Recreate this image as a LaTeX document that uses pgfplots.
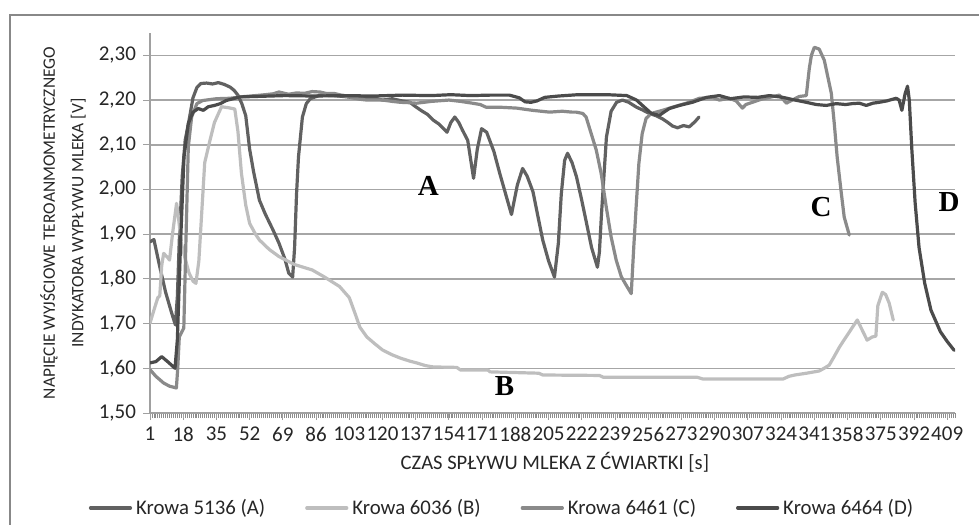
\documentclass[border=0pt]{standalone}
\usepackage{fontspec}
\setmainfont{Carlito}
\newfontfamily\tnr{Liberation Serif}
\usepackage{pgfplots}
\usepackage{pgfplotstable}
\pgfplotsset{compat=1.18}

\definecolor{cA}{HTML}{616161}
\definecolor{cB}{HTML}{BEBEBE}
\definecolor{cC}{HTML}{8A8A8A}
\definecolor{cD}{HTML}{4B4B4B}
\definecolor{gridc}{HTML}{A6A6A6}
\definecolor{axc}{HTML}{A0A0A0}
\definecolor{framec}{HTML}{888888}
\definecolor{tickc}{HTML}{262626}

\pgfplotstableread{
x y
1 1.883
3 1.888
6 1.827
9 1.770
12 1.725
14 1.697
15 1.760
16 1.887
17.5 2.030
19 2.110
21 2.155
23 2.205
25 2.228
27 2.237
30 2.238
33 2.236
36 2.239
39 2.235
42 2.229
44 2.222
46 2.211
48 2.192
50 2.165
52 2.090
54 2.040
57 1.976
60 1.945
64 1.909
67 1.880
70 1.845
72 1.813
74 1.804
75 1.870
76 1.990
77 2.073
79 2.162
81 2.192
83 2.203
88 2.211
95 2.210
100 2.208
108 2.204
115 2.206
120 2.200
125 2.203
130 2.198
134 2.195
137 2.185
140 2.176
143 2.168
146 2.155
149 2.146
153 2.128
155 2.150
157 2.162
159 2.150
161 2.132
163.6 2.110
166.6 2.025
168.5 2.090
170.7 2.136
173.3 2.128
177 2.085
180 2.036
183 1.990
186 1.944
189 2.010
191.7 2.047
194 2.030
197 1.995
200 1.930
202 1.887
205 1.840
208 1.804
210 1.880
211.5 1.990
213.2 2.065
214.7 2.081
217 2.060
219.3 2.028
222 1.975
224.4 1.925
227 1.870
230 1.826
231 1.860
232.1 1.947
234.6 2.117
237 2.175
239.8 2.195
242.8 2.200
246 2.195
250 2.184
253 2.178
256.6 2.170
260 2.165
263.3 2.158
266 2.150
268.4 2.142
271 2.138
274 2.143
277 2.140
280 2.152
282 2.162
}\dataA

\pgfplotstableread{
x y
1 1.701
3 1.730
5 1.758
6 1.762
7 1.830
8 1.857
10 1.848
11 1.842
12.5 1.900
14.6 1.969
15.5 1.940
17 1.880
19 1.845
21 1.813
23 1.795
24.5 1.790
26 1.840
27.5 1.950
29 2.060
31.7 2.110
34 2.150
37.6 2.185
41 2.183
44.4 2.180
46 2.130
47.8 2.036
50 1.965
52 1.924
55 1.900
57 1.887
62 1.866
67 1.850
75 1.832
84 1.820
90 1.805
98 1.783
103 1.758
106 1.722
108.4 1.692
112 1.670
116 1.655
120 1.641
125 1.630
129 1.623
134 1.616
137.5 1.612
142 1.606
146 1.603
158 1.602
160 1.596
174 1.596
175 1.592
200 1.589
202 1.585
231 1.584
233 1.580
281 1.580
284 1.576
325 1.576
328 1.582
331 1.585
337 1.589
343.5 1.594
346 1.600
348.6 1.607
351 1.625
353.8 1.647
356 1.662
358.9 1.681
361 1.695
363 1.708
365 1.690
368 1.663
370.6 1.670
372.5 1.672
373.5 1.740
375.8 1.770
377.5 1.765
379.3 1.746
381.4 1.708
}\dataB

\pgfplotstableread{
x y
1 1.597
4 1.582
8 1.567
11 1.560
14.5 1.556
15.2 1.600
16 1.670
17 1.679
18.3 1.690
19.4 1.887
20.6 2.095
22.3 2.162
25 2.192
28 2.199
35 2.203
42 2.204
47 2.207
55 2.210
60 2.212
64 2.214
67 2.218
72 2.213
76 2.216
80 2.215
84 2.219
88 2.218
91 2.215
95 2.215
100 2.210
103 2.207
108 2.202
112 2.200
120 2.200
125 2.197
129 2.195
134 2.194
137.5 2.193
145 2.197
154 2.200
160 2.197
166 2.193
170 2.190
173 2.184
180 2.184
188.6 2.182
196.8 2.177
205.5 2.173
212 2.175
217 2.173
219.1 2.173
222.5 2.170
224.2 2.162
226.8 2.125
229.4 2.088
231.9 2.036
234.5 1.961
237 1.894
239.6 1.842
242.2 1.805
244.7 1.786
247.3 1.767
248.6 1.872
249.8 1.961
251.2 2.058
252.9 2.125
254.9 2.159
257.5 2.170
263.3 2.177
268.4 2.184
275.5 2.193
282.2 2.204
288.8 2.206
292.4 2.200
297.5 2.204
301 2.198
304.2 2.182
306 2.190
309.3 2.195
314 2.202
318 2.206
323.1 2.211
326.7 2.193
329.7 2.200
333.3 2.208
336.9 2.210
338.4 2.270
339.5 2.300
341 2.318
343.5 2.314
346.1 2.289
348 2.250
349.7 2.215
351.2 2.148
352.7 2.072
354.8 1.992
356.3 1.938
358.9 1.898
}\dataC

\pgfplotstableread{
x y
1 1.612
4 1.615
7 1.626
10 1.615
13.8 1.600
15 1.664
16.7 1.887
18.4 2.073
20.6 2.147
23 2.173
25.7 2.181
28.3 2.177
30.8 2.185
34 2.188
37 2.192
40 2.199
47 2.207
55 2.208
70 2.210
85 2.209
100 2.210
115 2.209
130 2.211
145 2.210
155 2.212
165 2.210
175 2.211
185 2.211
190 2.205
193 2.196
196 2.195
199 2.198
203 2.206
210 2.209
220 2.212
235 2.212
245 2.210
250 2.200
253 2.188
257.6 2.170
261.7 2.166
266.8 2.181
272 2.188
278.6 2.195
285.8 2.206
292.4 2.210
298 2.203
305 2.207
312 2.206
318 2.210
325 2.206
330 2.201
336.9 2.195
342 2.190
347.1 2.188
352.2 2.192
357 2.190
360.4 2.192
364 2.193
367.6 2.188
371 2.193
374.2 2.195
378 2.198
382.9 2.204
384.4 2.200
385.8 2.177
387.5 2.215
388.7 2.231
389.6 2.200
390.9 2.090
392.6 1.970
394.6 1.870
397.5 1.790
400.7 1.730
405.5 1.682
409 1.660
412.6 1.640
}\dataD

\begin{document}
\begin{tikzpicture}
\useasboundingbox (0,0) rectangle (489.5bp,262.5bp);
\draw[framec, line width=1bp] (5bp,-3bp) -- (5bp,255bp) -- (495bp,255bp);
\begin{axis}[
  at={(75bp,56bp)}, anchor=south west,
  scale only axis, width=402.5bp, height=190bp,
  xmin=1, xmax=413, ymin=1.5, ymax=2.35,
  axis x line=bottom, axis y line=left,
  axis line style={-, draw=axc, line width=0.75bp},
  xtick={1,18,...,409},
  minor xtick={2,...,413},
  ytick={1.5,1.6,1.7,1.8,1.9,2.0,2.1,2.2,2.3},
  yticklabels={{1,50},{1,60},{1,70},{1,80},{1,90},{2,00},{2,10},{2,20},{2,30}},
  /pgf/number format/assume math mode=true,
  tick align=outside,
  major tick length=3.5bp, minor tick length=2.6bp,
  tick style={draw=axc, line width=0.45bp},
  minor tick style={draw=black!45, line width=0.4bp},
  ymajorgrids,
  grid style={draw=gridc, line width=0.75bp},
  ticklabel style={font=\fontsize{10.5bp}{12bp}\selectfont, text=tickc},
  xticklabel style={inner xsep=0pt},
  clip mode=individual,
  xlabel={CZAS SPŁYWU MLEKA Z ĆWIARTKI [s]},
  every axis x label/.style={at={(axis description cs:0.503,-0.129)}, anchor=center,
     font=\fontsize{10.3bp}{12bp}\selectfont, text=tickc},
  ylabel={NAPIĘCIE WYJŚCIOWE TEROANMOMETRYCZNEGO\\INDYKATORA WYPŁYWU MLEKA [V]},
  every axis y label/.style={at={(axis description cs:-0.108,0.5)}, rotate=90, anchor=center,
     align=center, font=\fontsize{8.7bp}{14.25bp}\selectfont, text=tickc},
  legend columns=4,
  legend style={at={(0.4385,-0.25)}, anchor=center, draw=none, fill=none,
     font=\fontsize{10.4bp}{12bp}\selectfont, text=tickc,
     /tikz/every even column/.append style={column sep=18bp},
     inner sep=0pt},
  legend image code/.code={\draw[#1] (0bp,0bp) -- (20bp,0bp);},
  every axis plot/.append style={line width=1.6bp, line join=round, line cap=round},
]
\addplot[cA, no marks] table {\dataA};
\addlegendentry{Krowa 5136 (A)}
\addplot[cB, no marks] table {\dataB};
\addlegendentry{Krowa 6036 (B)}
\addplot[cC, no marks] table {\dataC};
\addlegendentry{Krowa 6461 (C)}
\addplot[cD, no marks] table {\dataD};
\addlegendentry{Krowa 6464 (D)}
\node[font=\tnr\bfseries\fontsize{14.5bp}{16bp}\selectfont] at (axis cs:143.5,2.007) {A};
\node[font=\tnr\bfseries\fontsize{14.5bp}{16bp}\selectfont] at (axis cs:182.5,1.560) {B};
\node[font=\tnr\bfseries\fontsize{14.5bp}{16bp}\selectfont] at (axis cs:344.5,1.961) {C};
\node[font=\tnr\bfseries\fontsize{14.5bp}{16bp}\selectfont] at (axis cs:410,1.972) {D};
\end{axis}
\end{tikzpicture}
\end{document}
